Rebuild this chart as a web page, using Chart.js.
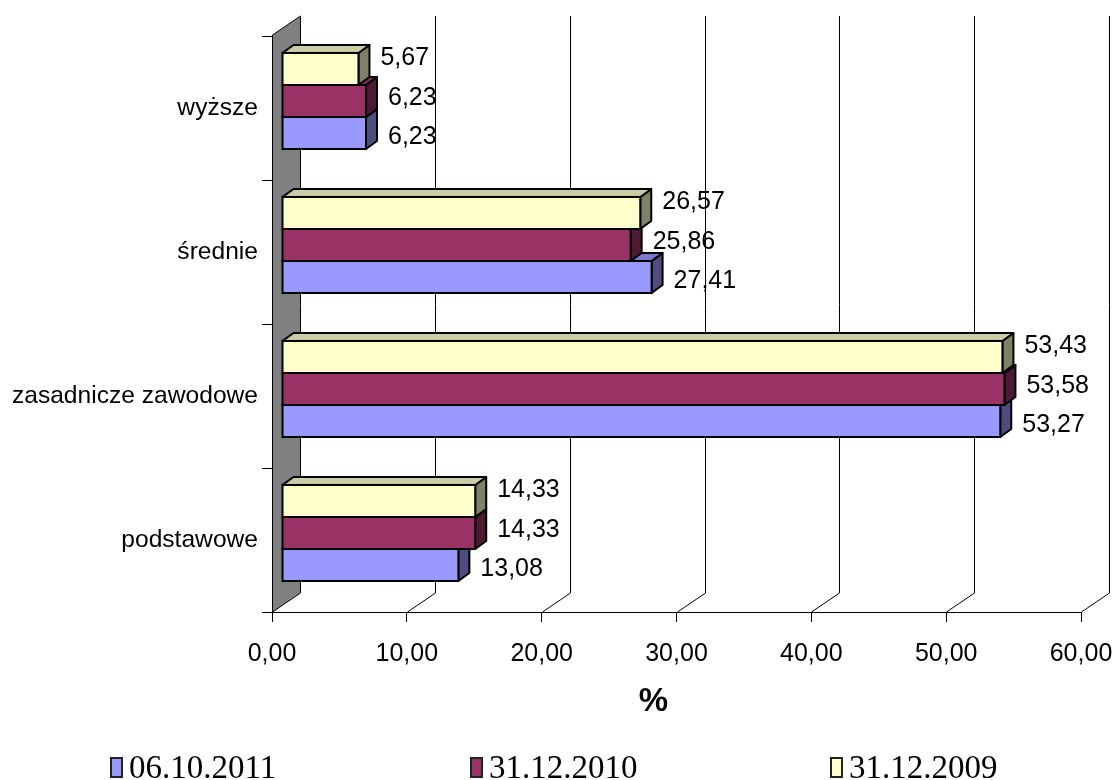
<!DOCTYPE html>
<html>
<head>
<meta charset="utf-8">
<script src="https://cdn.jsdelivr.net/npm/chart.js@4/dist/chart.umd.min.js"></script>
<style>
  html, body { margin: 0; padding: 0; background: #fff; }
  canvas { display: block; }
</style>
</head>
<body>
<canvas id="chart" width="1115" height="780"></canvas>
<script>
// Education level of registered unemployed, share in %
const categories = ['wyższe', 'średnie', 'zasadnicze zawodowe', 'podstawowe'];
const seriesNames = ['31.12.2009', '31.12.2010', '06.10.2011'];
const values2009 = [5.67, 26.57, 53.43, 14.33];
const values2010 = [6.23, 25.86, 53.58, 14.33];
const values2011 = [6.23, 27.41, 53.27, 13.08];
const xTickMin = 0;
const xTickMax = 60;
const xTickStep = 10;
const axisTitle = '%';

// Face colours: front, top, side
const frontColors = ['#FFFFCC', '#993366', '#9999FF'];
const topColors   = ['#CCCCA3', '#7A2952', '#7A7ACC'];
const sideColors  = ['#808066', '#4D1A33', '#4D4D80'];

// 3D look
const depth = { wallDx: 28, wallDy: -19, shiftX: 10, shiftY: -7, barDx: 11, barDy: -8 };
const labelNudgeY = [-11, -3, 4];
const fmt = v => v.toFixed(2).replace('.', ',');

const sansFont = '"Liberation Sans", Arial, sans-serif';
const serifFont = '"Liberation Serif", "Times New Roman", serif';

function poly(ctx, pts, fill) {
  ctx.beginPath();
  ctx.moveTo(pts[0][0], pts[0][1]);
  for (let i = 1; i < pts.length; i++) ctx.lineTo(pts[i][0], pts[i][1]);
  ctx.closePath();
  ctx.fillStyle = fill;
  ctx.fill();
  ctx.stroke();
}

const box3d = {
  id: 'box3d',
  beforeDatasetsDraw(chart) {
    const { ctx, chartArea: a, scales: { x } } = chart;
    const x0 = x.getPixelForValue(xTickMin);
    ctx.save();
    ctx.strokeStyle = '#000';
    ctx.lineWidth = 1;
    // side wall
    poly(ctx, [
      [x0 + 0.5, a.top - 1],
      [x0 + depth.wallDx + 0.5, a.top - 1 + depth.wallDy],
      [x0 + depth.wallDx + 0.5, a.bottom + depth.wallDy],
      [x0 + 0.5, a.bottom]
    ], '#808080');
    // back wall grid and floor connectors
    ctx.beginPath();
    for (let v = xTickMin + xTickStep; v <= xTickMax; v += xTickStep) {
      const px = Math.round(x.getPixelForValue(v)) + 0.5;
      ctx.moveTo(px + depth.wallDx, a.top - 1 + depth.wallDy);
      ctx.lineTo(px + depth.wallDx, a.bottom + depth.wallDy);
      ctx.moveTo(px, a.bottom);
      ctx.lineTo(px + depth.wallDx, a.bottom + depth.wallDy);
    }
    ctx.stroke();
    ctx.restore();
    // bars sit inside the depth of the box
    ctx.save();
    ctx.translate(depth.shiftX, depth.shiftY);
  },
  beforeDatasetDraw(chart, args) {
    const { ctx } = chart;
    const i = args.index;
    ctx.save();
    ctx.strokeStyle = '#000';
    ctx.lineWidth = 2;
    ctx.lineJoin = 'round';
    args.meta.data.forEach(bar => {
      const { x, y, base, height } = bar.getProps(['x', 'y', 'base', 'height'], true);
      const t = y - height / 2, b = y + height / 2;
      const dx = depth.barDx, dy = depth.barDy;
      poly(ctx, [[x, t], [x + dx, t + dy], [x + dx, b + dy], [x, b]], sideColors[i]);
      poly(ctx, [[base, t], [base + dx, t + dy], [x + dx, t + dy], [x, t]], topColors[i]);
    });
    ctx.restore();
  },
  afterDatasetDraw(chart, args) {
    const { ctx } = chart;
    ctx.save();
    ctx.strokeStyle = '#000';
    ctx.lineWidth = 2;
    args.meta.data.forEach(bar => {
      const { x, y, base, height } = bar.getProps(['x', 'y', 'base', 'height'], true);
      ctx.strokeRect(base, y - height / 2, x - base, height);
    });
    ctx.restore();
  },
  afterDatasetsDraw(chart) {
    const { ctx } = chart;
    // value labels
    ctx.font = '25px ' + sansFont;
    ctx.fillStyle = '#000';
    ctx.textAlign = 'left';
    ctx.textBaseline = 'middle';
    chart.data.datasets.forEach((ds, i) => {
      chart.getDatasetMeta(i).data.forEach((bar, j) => {
        ctx.fillText(fmt(ds.data[j]), bar.x + 22, bar.y + labelNudgeY[i]);
      });
    });
    ctx.restore();
  },
  afterDraw(chart) {
    const { ctx, scales: { x } } = chart;
    ctx.save();
    // axis title
    ctx.font = 'bold 33px ' + sansFont;
    ctx.fillStyle = '#000';
    ctx.textAlign = 'center';
    ctx.textBaseline = 'middle';
    ctx.fillText(axisTitle, x.getPixelForValue(xTickMin + (xTickMax - xTickMin) * 0.4715), 702);
    // legend, newest series first
    ctx.font = '33px ' + serifFont;
    ctx.textAlign = 'left';
    ctx.textBaseline = 'alphabetic';
    const order = [2, 1, 0];
    order.forEach((di, k) => {
      const ds = chart.data.datasets[di];
      const lx = 111 + k * 360;
      ctx.fillStyle = frontColors[di];
      ctx.fillRect(lx, 758, 11, 19);
      ctx.strokeStyle = '#222';
      ctx.lineWidth = 2;
      ctx.strokeRect(lx, 758, 11, 19);
      ctx.fillStyle = '#000';
      ctx.fillText(ds.label, lx + 18, 778);
    });
    ctx.restore();
  }
};

new Chart(document.getElementById('chart'), {
  type: 'bar',
  data: {
    labels: categories,
    datasets: [
      { label: seriesNames[0], data: values2009 },
      { label: seriesNames[1], data: values2010 },
      { label: seriesNames[2], data: values2011 }
    ].map((d, i) => Object.assign(d, {
      backgroundColor: frontColors[i],
      borderWidth: 0,
      categoryPercentage: 0.667,
      barPercentage: 1.0
    }))
  },
  options: {
    indexAxis: 'y',
    responsive: false,
    animation: false,
    events: [],
    layout: { padding: { left: 0, top: 36, right: 34, bottom: 0 } },
    plugins: { legend: { display: false }, tooltip: { enabled: false } },
    scales: {
      x: {
        min: xTickMin,
        max: xTickMax,
        ticks: {
          stepSize: xTickStep,
          color: '#000',
          font: { family: sansFont, size: 25 },
          padding: 17,
          maxRotation: 0,
          callback: v => fmt(v)
        },
        grid: { drawOnChartArea: false, drawTicks: true, tickLength: 10, color: '#000' },
        border: { display: true, color: '#000' },
        afterFit: s => { s.height = 168; s.paddingLeft = 0; s.paddingRight = 0; }
      },
      y: {
        ticks: {
          color: '#000',
          font: { family: sansFont, size: 24.6 },
          padding: 4
        },
        grid: { offset: true, drawOnChartArea: false, drawTicks: true, tickLength: 10, color: '#000' },
        border: { display: true, color: '#000' },
        afterFit: s => { s.width = 272; s.paddingTop = 0; s.paddingBottom = 0; }
      }
    }
  },
  plugins: [box3d]
});
</script>
</body>
</html>
